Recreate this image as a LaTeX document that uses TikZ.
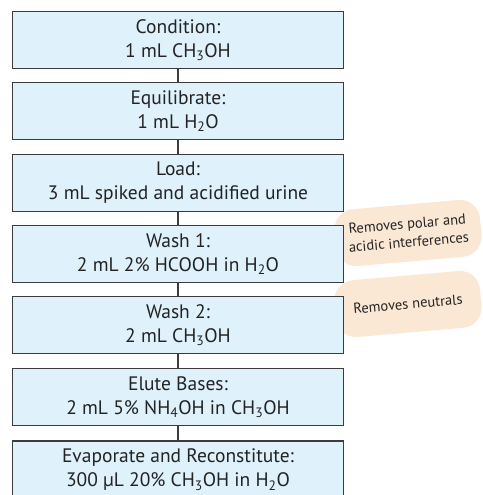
\documentclass[tikz,border=0pt]{standalone}
\usepackage{fontspec}
\setmainfont{PT Sans}
\definecolor{boxfill}{RGB}{223,241,251}
\definecolor{boxline}{RGB}{60,60,60}
\definecolor{notefill}{RGB}{250,232,212}
\definecolor{txt}{RGB}{35,35,35}
\begin{document}
\begin{tikzpicture}[x=1pt,y=-1pt,
  stepbox/.style={draw=boxline, fill=boxfill, line width=1.4pt, minimum width=331pt, minimum height=57pt, align=center, inner sep=0pt, font=\fontsize{19.5}{24}\selectfont, text=txt},
  note/.style={fill=notefill, rounded corners=20pt, minimum width=146pt, minimum height=57pt, align=center, inner sep=0pt, font=\fontsize{14.5}{18.5}\selectfont, rotate=5, text=txt},
  conn/.style={draw=boxline, line width=1.4pt}]
\useasboundingbox (0,0) rectangle (482,495);
\node[note] (n1) at (408,233) {Removes polar and\\acidic interferences};
\node[note] (n2) at (408,304) {Removes neutrals};
\node[stepbox] (b1) at (178,40) {Condition:\\1 mL CH\textsubscript{3}OH};
\node[stepbox] (b2) at (178,111) {Equilibrate:\\1 mL H\textsubscript{2}O};
\node[stepbox] (b3) at (178,183) {Load:\\3 mL spiked and acidified urine};
\node[stepbox] (b4) at (178,254) {Wash 1:\\2 mL 2\% HCOOH in H\textsubscript{2}O};
\node[stepbox] (b5) at (178,325) {Wash 2:\\2 mL CH\textsubscript{3}OH};
\node[stepbox] (b6) at (178,397) {Elute Bases:\\2 mL 5\% NH\textsubscript{4}OH in CH\textsubscript{3}OH};
\node[stepbox, minimum height=58pt] (b7) at (178,470) {Evaporate and Reconstitute:\\300 µL 20\% CH\textsubscript{3}OH in H\textsubscript{2}O};
\draw[conn] (b1.south) -- (b2.north);
\draw[conn] (b2.south) -- (b3.north);
\draw[conn] (b3.south) -- (b4.north);
\draw[conn] (b4.south) -- (b5.north);
\draw[conn] (b5.south) -- (b6.north);
\draw[conn] (b6.south) -- (b7.north);
\end{tikzpicture}
\end{document}
